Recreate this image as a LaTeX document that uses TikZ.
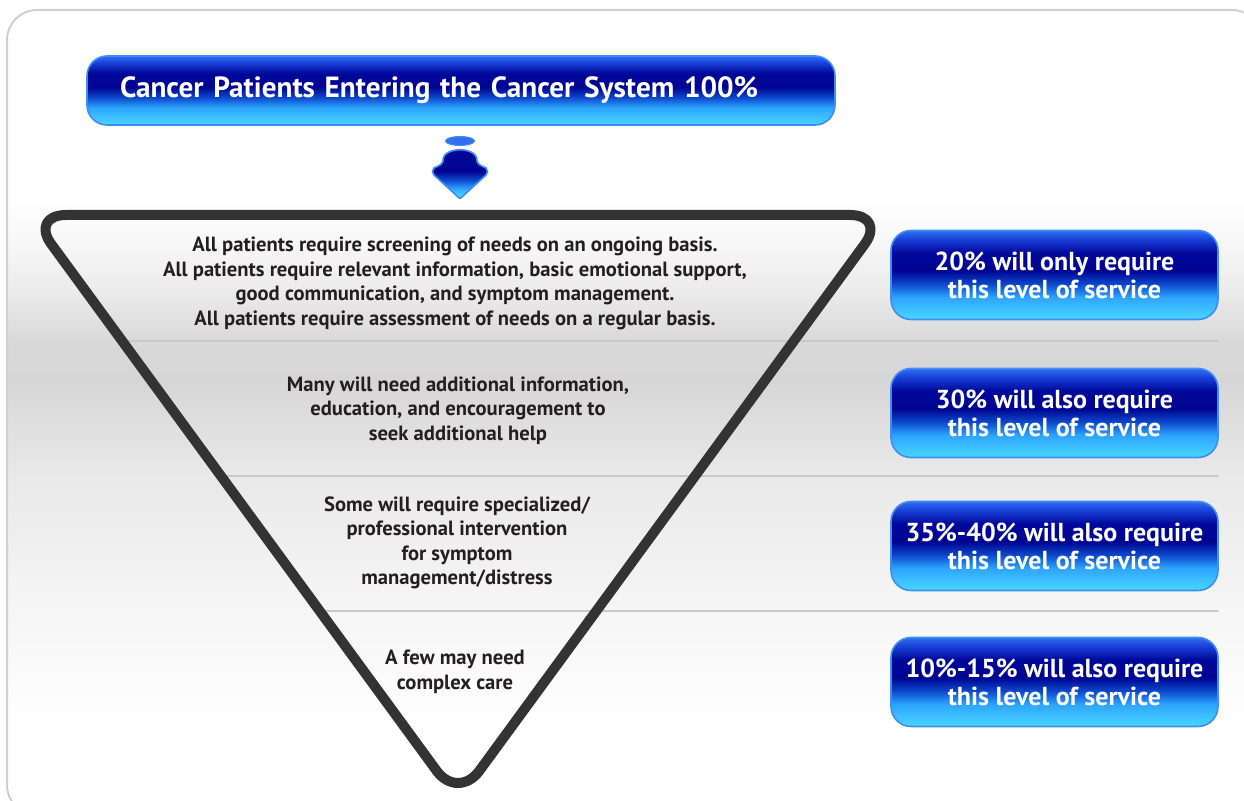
\documentclass[tikz,border=0pt]{standalone}
\usepackage{fontspec}
\setmainfont{PT Sans}
\usetikzlibrary{calc}

% palette
\definecolor{btop}{RGB}{48,112,240}
\definecolor{bdeep}{RGB}{24,64,216}
\definecolor{bnavy}{RGB}{0,8,154}
\definecolor{bnavyb}{RGB}{0,4,144}
\definecolor{bmid}{RGB}{12,72,204}
\definecolor{bsky}{RGB}{46,164,255}
\definecolor{bcyan}{RGB}{72,216,255}
\definecolor{btnedge}{RGB}{62,140,245}
\definecolor{framegray}{RGB}{208,208,208}
\definecolor{rulegray}{RGB}{200,200,200}
\definecolor{pyramid}{RGB}{51,51,51}
\definecolor{inktext}{RGB}{35,31,32}
\definecolor{gA}{RGB}{248,248,248}
\definecolor{gB}{RGB}{235,235,235}
\definecolor{gC}{RGB}{217,217,217}
\definecolor{gD}{RGB}{214,214,214}
\definecolor{gE}{RGB}{233,233,233}
\definecolor{gF}{RGB}{246,246,246}

% glossy button: bright top, navy middle, cyan bottom
\pgfdeclareverticalshading{btnshade}{100bp}{%
  color(0bp)=(bcyan); color(25bp)=(bcyan); color(37.5bp)=(bsky);
  color(45bp)=(bmid); color(52.5bp)=(bnavyb); color(62.5bp)=(bnavy);
  color(70bp)=(bdeep); color(75bp)=(btop); color(100bp)=(btop)}
% arrow: navy top fading into cyan tip
\pgfdeclareverticalshading{arrowshade}{100bp}{%
  color(0bp)=(bcyan); color(28bp)=(bcyan); color(35bp)=(bsky);
  color(43bp)=(bmid); color(51bp)=(bnavyb); color(75bp)=(bnavy); color(100bp)=(bnavy)}
% soft grey band behind the levels
\pgfdeclareverticalshading{bandshade}{100bp}{%
  color(0bp)=(white); color(25bp)=(white); color(36bp)=(gF);
  color(48.7bp)=(gE); color(57.7bp)=(gD); color(61.4bp)=(gC);
  color(66bp)=(gB); color(70.8bp)=(gA); color(75bp)=(white); color(100bp)=(white)}

\tikzset{
  btn/.style={draw=btnedge, line width=0.8pt, rounded corners=10pt,
    shading=btnshade, text=white, inner sep=0pt, align=center},
  sidebtn/.style={btn, minimum width=163.5pt, minimum height=44.5pt,
    font=\fontsize{13}{14}\selectfont\bfseries},
  leveltext/.style={text=inktext, align=center, inner sep=0pt,
    font=\fontsize{10.3}{12.25}\selectfont\bfseries},
  levelrule/.style={draw=rulegray, line width=0.8pt},
}

\begin{document}
\begin{tikzpicture}[x=0.5pt, y=0.5pt]
\useasboundingbox (0,0) rectangle (1244,-801);

% outer panel and its grey band
\begin{scope}
  \clip[rounded corners=15pt] (7,-10) rectangle (1262,-815);
  \fill[white] (7,-10) rectangle (1262,-815);
  \shade[shading=bandshade] (0,-195) rectangle (1262,-730);
\end{scope}
\draw[framegray, line width=1pt, rounded corners=15pt] (7,-10) rectangle (1262,-815);

% pyramid corners
\coordinate (TL) at (30,-215);
\coordinate (TR) at (886,-215);
\coordinate (AP) at (458,-800);

% level separators
\coordinate (L1) at ($(TL)!{126/585}!(AP)$);
\coordinate (L2) at ($(TL)!{261/585}!(AP)$);
\coordinate (L3) at ($(TL)!{396/585}!(AP)$);
\coordinate (R1) at (1218,-341);
\coordinate (R2) at (1218,-476);
\coordinate (R3) at (1218,-611);
\draw[levelrule] (L1) -- (R1);
\draw[levelrule] (L2) -- (R2);
\draw[levelrule] (L3) -- (R3);

% inverted pyramid outline
\draw[pyramid, line width=5pt, rounded corners=18pt, line join=round]
  (TL) -- (TR) -- (AP) -- cycle;

% title bar
\node[btn, text width=341pt, inner xsep=16.5pt, minimum height=34.5pt, align=left,
      font=\fontsize{14.6}{16}\selectfont\bfseries]
  (title) at (461,-90.5) {Cancer Patients Entering the Cancer System 100\%};

% down arrow under the title
\fill[btop, draw=btnedge, line width=0.5pt] (460,-141) ellipse [x radius=14.5, y radius=4.5];
\shade[shading=arrowshade, draw=btnedge, line width=0.8pt]
  (443,-161) .. controls (442,-146) and (478,-146) .. (477,-161)
  .. controls (478,-165) and (482,-166) .. (486,-168)
  .. controls (488,-170) and (488,-173) .. (486,-175)
  -- (463,-196) .. controls (460,-199) .. (457,-196)
  -- (434,-175) .. controls (432,-173) and (432,-170) .. (434,-168)
  .. controls (438,-166) and (442,-165) .. (443,-161) -- cycle;

% text of each level
\node[leveltext] (lv1) at (455,-283.5) {All patients require screening of needs on an ongoing basis.\\
  All patients require relevant information, basic emotional support,\\
  good communication, and symptom management.\\
  All patients require assessment of needs on a regular basis.};
\node[leveltext] (lv2) at (458,-410.5) {Many will need additional information,\\
  education, and encouragement to\\ seek additional help};
\node[leveltext] (lv3) at (457,-543) {Some will require specialized/\\
  professional intervention\\ for symptom\\ management/distress};
\node[leveltext] (lv4) at (455,-672) {A few may need\\ complex care};

% share of patients at each level
\node[sidebtn] (s1) at (1054.5,-275) {20\% will only require\\ this level of service};
\node[sidebtn] (s2) at (1054.5,-413) {30\% will also require\\ this level of service};
\node[sidebtn] (s3) at (1054.5,-546) {35\%-40\% will also require\\ this level of service};
\node[sidebtn] (s4) at (1054.5,-682) {10\%-15\% will also require\\ this level of service};
\end{tikzpicture}
\end{document}
